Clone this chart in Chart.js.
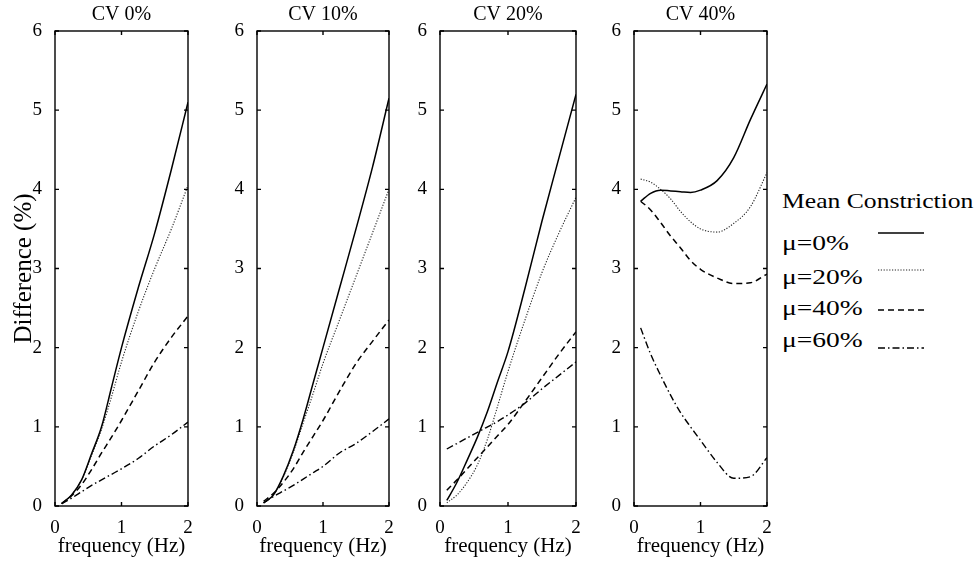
<!DOCTYPE html>
<html>
<head>
<meta charset="utf-8">
<script src="https://cdn.jsdelivr.net/npm/chart.js@4"></script>
<style>
  body { margin: 0; background: #fff; width: 974px; height: 561px; position: relative; overflow: hidden; }
  canvas.panel { position: absolute; top: 0; }
  #legend { position: absolute; left: 782px; top: 186px; font-family: 'Liberation Serif', serif; color: #000; }
  #legend .head { position: absolute; left: 0; top: 3px; font-size: 21px; transform: scaleX(1.22); transform-origin: left; white-space: nowrap; }
  #legend .row { position: absolute; left: 0; font-size: 22px; transform: scaleX(1.25); transform-origin: left; white-space: nowrap; }
  #legendLines { position: absolute; left: 870px; top: 220px; }
</style>
</head>
<body>
<canvas class="panel" id="c0"></canvas>
<canvas class="panel" id="c1"></canvas>
<canvas class="panel" id="c2"></canvas>
<canvas class="panel" id="c3"></canvas>
<div id="legend">
  <div class="head">Mean Constriction</div>
  <div class="row" style="top:44px">μ=0%</div>
  <div class="row" style="top:78px">μ=20%</div>
  <div class="row" style="top:109px">μ=40%</div>
  <div class="row" style="top:141px">μ=60%</div>
</div>
<canvas id="legendLines" width="60" height="140"></canvas>
<script>
// frequency grid (Hz), shared by every curve
const freq = [0.1, 0.25, 0.4, 0.55, 0.7, 0.85, 1.0, 1.25, 1.5, 1.75, 2.0];

const panelTitles = ['CV 0%', 'CV 10%', 'CV 20%', 'CV 40%'];
const seriesLabels = ['μ=0%', 'μ=20%', 'μ=40%', 'μ=60%'];

// CV 0%
const cv0_mu0  = [0.03, 0.14, 0.33, 0.66, 1.00, 1.50, 2.00, 2.75, 3.45, 4.25, 5.10];
const cv0_mu20 = [0.03, 0.14, 0.33, 0.64, 0.97, 1.38, 1.82, 2.45, 3.00, 3.50, 4.05];
const cv0_mu40 = [0.03, 0.13, 0.27, 0.46, 0.67, 0.87, 1.08, 1.45, 1.82, 2.13, 2.40];
const cv0_mu60 = [0.03, 0.10, 0.18, 0.26, 0.33, 0.40, 0.47, 0.60, 0.76, 0.90, 1.06];

// CV 10%
const cv10_mu0  = [0.04, 0.14, 0.38, 0.70, 1.10, 1.55, 2.00, 2.75, 3.50, 4.28, 5.15];
const cv10_mu20 = [0.04, 0.14, 0.37, 0.68, 1.05, 1.42, 1.80, 2.35, 2.90, 3.45, 4.00];
const cv10_mu40 = [0.06, 0.16, 0.30, 0.47, 0.68, 0.88, 1.08, 1.45, 1.80, 2.08, 2.35];
const cv10_mu60 = [0.04, 0.12, 0.19, 0.26, 0.34, 0.42, 0.50, 0.67, 0.79, 0.94, 1.10];

// CV 20%
const cv20_mu0  = [0.07, 0.30, 0.58, 0.87, 1.20, 1.58, 1.95, 2.75, 3.60, 4.40, 5.20];
const cv20_mu20 = [0.04, 0.14, 0.30, 0.52, 0.85, 1.27, 1.70, 2.35, 2.95, 3.45, 3.90];
const cv20_mu40 = [0.20, 0.33, 0.47, 0.61, 0.75, 0.89, 1.03, 1.32, 1.62, 1.92, 2.20];
const cv20_mu60 = [0.72, 0.79, 0.86, 0.93, 1.00, 1.07, 1.15, 1.30, 1.48, 1.65, 1.82];

// CV 40%
const cv40_mu0  = [3.85, 3.95, 3.99, 3.98, 3.97, 3.96, 3.99, 4.11, 4.40, 4.88, 5.33];
const cv40_mu20 = [4.13, 4.09, 4.00, 3.88, 3.72, 3.59, 3.50, 3.46, 3.57, 3.78, 4.21];
const cv40_mu40 = [3.85, 3.74, 3.58, 3.41, 3.26, 3.10, 2.99, 2.88, 2.81, 2.82, 2.93];
const cv40_mu60 = [2.25, 1.92, 1.65, 1.40, 1.18, 1.00, 0.83, 0.55, 0.35, 0.37, 0.61];

const yTicks = [0, 1, 2, 3, 4, 5, 6];
const xTicks = [0, 1, 2];

const panelData = [
  [cv0_mu0, cv0_mu20, cv0_mu40, cv0_mu60],
  [cv10_mu0, cv10_mu20, cv10_mu40, cv10_mu60],
  [cv20_mu0, cv20_mu20, cv20_mu40, cv20_mu60],
  [cv40_mu0, cv40_mu20, cv40_mu40, cv40_mu60]
];

// line styles: solid, dotted, dashed, dash-dot
const lineStyles = [
  { dash: [], width: 1.5, color: '#000' },
  { dash: [1.2, 1.6], width: 1.1, color: '#222' },
  { dash: [6, 4], width: 1.5, color: '#000' },
  { dash: [7, 3, 1.5, 3], width: 1.4, color: '#000' }
];

// plot box placement on the page
const plotLeft  = [55, 257, 440, 634];
const plotRight = [188, 389, 576, 767];
const bottomSpace = 55;
const serif = "'Liberation Serif', 'Times New Roman', serif";

const frame = {
  id: 'frame',
  afterDatasetsDraw(chart) {
    const { ctx, chartArea: a, scales: { x, y } } = chart;
    ctx.save();
    ctx.strokeStyle = '#000';
    ctx.lineWidth = 1.4;
    ctx.strokeRect(a.left, a.top, a.width, a.height);
    ctx.beginPath();
    y.ticks.forEach(t => {
      const py = y.getPixelForValue(t.value);
      ctx.moveTo(a.left, py); ctx.lineTo(a.left + 4, py);
      ctx.moveTo(a.right, py); ctx.lineTo(a.right - 4, py);
    });
    x.ticks.forEach(t => {
      const px = x.getPixelForValue(t.value);
      ctx.moveTo(px, a.bottom); ctx.lineTo(px, a.bottom - 4);
      ctx.moveTo(px, a.top); ctx.lineTo(px, a.top + 4);
    });
    ctx.stroke();
    ctx.restore();
  }
};

panelTitles.forEach((title, i) => {
  const padLeft = i === 0 ? 55 : 32;
  const padRight = 14;
  const canvas = document.getElementById('c' + i);
  canvas.width = plotRight[i] - plotLeft[i] + padLeft + padRight;
  canvas.height = 561;
  canvas.style.left = (plotLeft[i] - padLeft) + 'px';

  const datasets = panelData[i].map((vals, k) => ({
    label: seriesLabels[k],
    data: vals.map((v, j) => ({ x: freq[j], y: v })),
    borderColor: lineStyles[k].color,
    borderWidth: lineStyles[k].width,
    borderDash: lineStyles[k].dash,
    pointRadius: 0,
    fill: false,
    cubicInterpolationMode: 'monotone'
  }));

  new Chart(canvas, {
    type: 'line',
    data: { datasets },
    plugins: [frame],
    options: {
      responsive: false,
      animation: false,
      layout: { padding: { left: 0, right: padRight, top: 0, bottom: 0 } },
      plugins: {
        legend: { display: false },
        tooltip: { enabled: false },
        title: {
          display: true,
          fullSize: false,   // centre over the plot box
          text: title,
          color: '#000',
          font: { family: serif, size: 20, weight: 'normal', lineHeight: 1.1 },
          padding: { top: 4, bottom: 5 }
        }
      },
      scales: {
        x: {
          type: 'linear',
          min: 0, max: 2,
          afterBuildTicks: s => { s.ticks = xTicks.map(v => ({ value: v })); },
          afterFit: s => { s.height = bottomSpace; },
          grid: { display: false },
          border: { display: false },
          ticks: { color: '#000', padding: 3, maxRotation: 0, font: { family: serif, size: 19 } },
          title: {
            display: true,
            text: 'frequency (Hz)',
            color: '#000',
            font: { family: serif, size: 21 },
            padding: { top: 0, bottom: 2 }
          }
        },
        y: {
          min: 0, max: 6,
          afterBuildTicks: s => { s.ticks = yTicks.map(v => ({ value: v })); },
          afterFit: s => { s.width = padLeft; },
          grid: { display: false },
          border: { display: false },
          ticks: { color: '#000', padding: 5, font: { family: serif, size: 19 } },
          title: {
            display: i === 0,
            text: 'Difference (%)',
            color: '#000',
            font: { family: serif, size: 25 },
            padding: { top: 9, bottom: 0 }
          }
        }
      }
    }
  });
});

// legend line samples
const lctx = document.getElementById('legendLines').getContext('2d');
const legendY = [13, 50, 90, 128];
lineStyles.forEach((st, k) => {
  lctx.save();
  lctx.strokeStyle = st.color;
  lctx.lineWidth = st.width;
  lctx.setLineDash(st.dash);
  lctx.beginPath();
  lctx.moveTo(8, legendY[k]);
  lctx.lineTo(54, legendY[k]);
  lctx.stroke();
  lctx.restore();
});
</script>
</body>
</html>
